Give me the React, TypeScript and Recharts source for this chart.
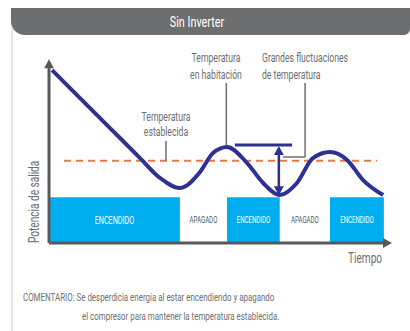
import React from 'react';
import {
  ComposedChart,
  Line,
  XAxis,
  YAxis,
  ReferenceArea,
  ReferenceLine,
  ReferenceDot,
} from 'recharts';

// curve of room temperature over time
const time = [0.9, 9.1, 17.9, 26.7, 32.6, 38.4, 44.3, 48.1, 52.2, 58.1, 62.8, 67.7, 72.7, 77.4, 82.4, 87.4, 92.1, 98];
const temp = [94.5, 79.2, 62.8, 46.4, 35.5, 30.1, 38.8, 49.2, 52.5, 43.7, 32.8, 26.2, 32.8, 46.4, 49.7, 45.4, 34.4, 26.2];

// compressor states
const stateStart = [0, 38.4, 52.2, 67.7, 82.4];
const stateEnd = [38.4, 52.2, 67.7, 82.4, 98.2];
const stateLabel = ['ENCENDIDO', 'APAGADO', 'ENCENDIDO', 'APAGADO', 'ENCENDIDO'];
const stateOn = [true, false, true, false, true];
const powerLevel = 25;

const setpoint = 45;

const data = time.map((t, i) => ({ t, v: temp[i] }));

const FONT = "Roboto, 'DejaVu Sans', sans-serif";
const NAVY = '#2E3192';
const AXIS = '#58595B';
const NOTE = '#6D6E71';
const SQUEEZE = 0.72;

const arrow = (dir: 'up' | 'down' | 'right', size: number, color: string) => (p: any) => {
  const { cx, cy } = p;
  const h = size;
  const w = size * 0.55;
  let d = '';
  if (dir === 'up') d = `M${cx},${cy - h * 0.6} L${cx - w},${cy + h * 0.4} L${cx + w},${cy + h * 0.4} Z`;
  if (dir === 'down') d = `M${cx},${cy + h * 0.6} L${cx - w},${cy - h * 0.4} L${cx + w},${cy - h * 0.4} Z`;
  if (dir === 'right') d = `M${cx + h * 0.6},${cy} L${cx - h * 0.4},${cy - w} L${cx - h * 0.4},${cy + w} Z`;
  return <path d={d} fill={color} />;
};

// narrow label inside a state block
const stateText = (label: string, on: boolean, big: boolean) => (props: any) => {
  const vb = props.viewBox || {};
  const cx = vb.x + vb.width / 2;
  const cy = vb.y + vb.height / 2;
  const fs = big ? 10 : 8.5;
  return (
    <text
      x={cx}
      y={cy}
      textAnchor="middle"
      dominantBaseline="central"
      fill={on ? '#FFFFFF' : '#555'}
      fontSize={fs}
      fontFamily={FONT}
      transform={`translate(${cx},0) scale(${SQUEEZE},1) translate(${-cx},0)`}
    >
      {label}
    </text>
  );
};

// condensed html text; anchor 'left' or 'center' at x
function Cond(props: { x: number; y: number; size: number; center?: boolean; lh?: number; color?: string; children: React.ReactNode }) {
  const { x, y, size, center, lh, color, children } = props;
  const W = 400;
  return (
    <div
      style={{
        position: 'absolute',
        left: center ? x - W / 2 : x,
        top: y,
        width: W,
        fontFamily: FONT,
        fontSize: size,
        lineHeight: `${lh ?? size * 1.2}px`,
        color: color ?? NOTE,
        whiteSpace: 'nowrap',
        textAlign: center ? 'center' : 'left',
        transform: `scaleX(${SQUEEZE})`,
        transformOrigin: center ? 'center top' : 'left top',
      }}
    >
      {children}
    </div>
  );
}

export default function App() {
  return (
    <div style={{ position: 'absolute', left: 0, top: 0, width: 410, height: 331, background: '#fff', overflow: 'hidden' }}>
      <div style={{ position: 'absolute', left: 11, top: 8, width: 2, height: 323, background: '#E6E6E6' }} />
      <div
        style={{
          position: 'absolute',
          left: 11,
          top: 8,
          width: 399,
          height: 27,
          background: '#6D6E70',
          borderRadius: '0 0 6px 14px',
        }}
      />
      <Cond x={197} y={13} size={15} center color="#FFFFFF" lh={18}>
        Sin Inverter
      </Cond>

      <ComposedChart width={410} height={331} data={data} margin={{ top: 60, right: 20, bottom: 88, left: 49 }} style={{ position: 'absolute', left: 0, top: 0 }}>
        <XAxis type="number" dataKey="t" domain={[0, 100]} hide />
        <YAxis type="number" domain={[0, 100]} hide />

        {stateStart.map((s, i) => (
          <ReferenceArea
            key={i}
            x1={s}
            x2={stateEnd[i]}
            y1={0}
            y2={powerLevel}
            fill={stateOn[i] ? '#00AEEF' : '#FFFFFF'}
            fillOpacity={1}
            stroke="none"
            label={stateText(stateLabel[i], stateOn[i], i === 0)}
          />
        ))}

        <ReferenceLine segment={[{ x: 4.4, y: setpoint }, { x: 96.2, y: setpoint }]} stroke="#E8794A" strokeWidth={2} strokeDasharray="7 5" />

        {/* connectors of the notes */}
        <ReferenceLine segment={[{ x: 34.3, y: 55.7 }, { x: 34.3, y: setpoint }]} stroke={NOTE} strokeWidth={1.5} />
        <ReferenceLine segment={[{ x: 52, y: 87.4 }, { x: 52, y: 52.5 }]} stroke={NOTE} strokeWidth={1.5} />
        <ReferenceLine segment={[{ x: 75.1, y: 87.4 }, { x: 75.1, y: 47 }]} stroke={NOTE} strokeWidth={1.5} />
        <ReferenceLine segment={[{ x: 75.1, y: 47 }, { x: 68.6, y: 47 }]} stroke={NOTE} strokeWidth={1.5} />

        <Line type="monotone" dataKey="v" stroke={NAVY} strokeWidth={4} dot={false} isAnimationActive={false} />

        {/* fluctuation marker */}
        <ReferenceLine segment={[{ x: 54.5, y: 53.6 }, { x: 71.3, y: 53.6 }]} stroke={NAVY} strokeWidth={3} />
        <ReferenceLine segment={[{ x: 67.4, y: 50 }, { x: 67.4, y: 30 }]} stroke={NAVY} strokeWidth={2.5} />
        <ReferenceDot x={67.4} y={50} r={0} shape={arrow('up', 9, NAVY)} />
        <ReferenceDot x={67.4} y={29} r={0} shape={arrow('down', 9, NAVY)} />

        {/* axes */}
        <ReferenceLine segment={[{ x: 0, y: 0 }, { x: 98.5, y: 0 }]} stroke={AXIS} strokeWidth={3} />
        <ReferenceLine segment={[{ x: 0, y: 0 }, { x: 0, y: 97 }]} stroke={AXIS} strokeWidth={3} />
        <ReferenceDot x={99} y={0} r={0} shape={arrow('right', 9, AXIS)} />
        <ReferenceDot x={0} y={97.5} r={0} shape={arrow('up', 9, AXIS)} />
      </ComposedChart>

      <Cond x={216} y={50} size={12} center lh={17}>
        Temperatura
        <br />
        en habitación
      </Cond>
      <Cond x={262} y={50} size={12} lh={17}>
        Grandes fluctuaciones
        <br />
        de temperatura
      </Cond>
      <Cond x={166} y={110} size={12} center lh={15}>
        Temperatura
        <br />
        establecida
      </Cond>
      <Cond x={348} y={250} size={14}>
        Tiempo
      </Cond>
      <div
        style={{
          position: 'absolute',
          left: 26,
          top: 243,
          transform: 'rotate(-90deg)',
          transformOrigin: '0 0',
        }}
      >
        <div
          style={{
            fontFamily: FONT,
            fontSize: 14,
            lineHeight: '16px',
            color: NOTE,
            whiteSpace: 'nowrap',
            transform: `scaleX(${SQUEEZE})`,
            transformOrigin: 'left top',
          }}
        >
          Potencia de salida
        </div>
      </div>
      <Cond x={23} y={291} size={11}>
        COMENTARIO: Se desperdicia energía al estar encendiendo y apagando
      </Cond>
      <Cond x={82} y={310} size={11}>
        el compresor para mantener la temperatura establecida.
      </Cond>
    </div>
  );
}
